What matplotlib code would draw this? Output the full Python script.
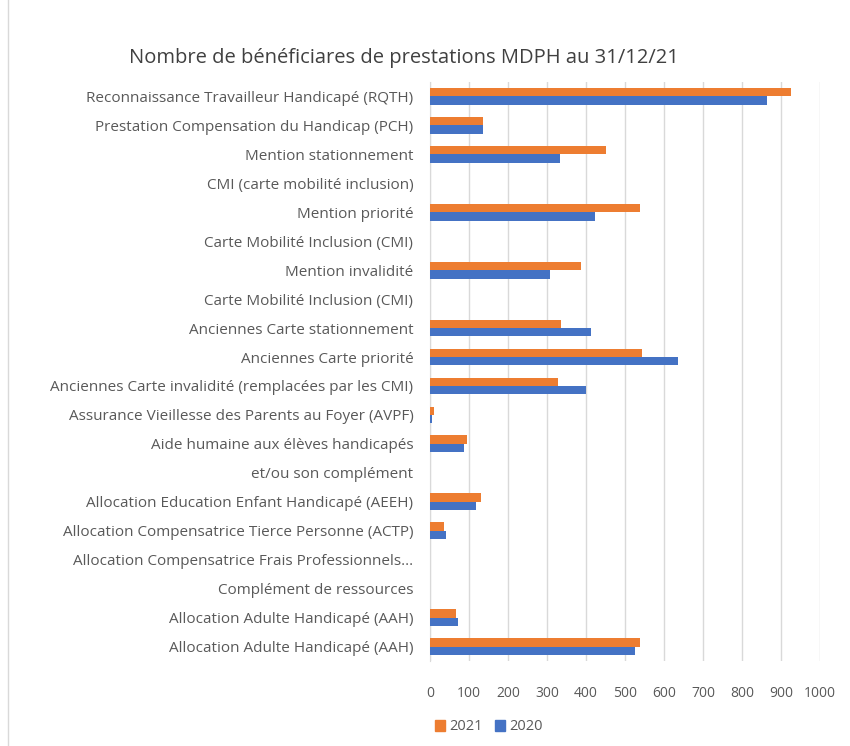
import matplotlib
matplotlib.use("Agg")
import matplotlib.pyplot as plt
import numpy as np
from matplotlib.patches import Patch

categories = [
    "Reconnaissance Travailleur Handicapé (RQTH)",
    "Prestation Compensation du Handicap (PCH)",
    "Mention stationnement",
    "CMI (carte mobilité inclusion)",
    "Mention priorité",
    "Carte Mobilité Inclusion (CMI)",
    "Mention invalidité",
    "Carte Mobilité Inclusion (CMI)",
    "Anciennes Carte stationnement",
    "Anciennes Carte priorité",
    "Anciennes Carte invalidité (remplacées par les CMI)",
    "Assurance Vieillesse des Parents au Foyer (AVPF)",
    "Aide humaine aux élèves handicapés",
    "et/ou son complément",
    "Allocation Education Enfant Handicapé (AEEH)",
    "Allocation Compensatrice Tierce Personne (ACTP)",
    "Allocation Compensatrice Frais Professionnels...",
    "Complément de ressources",
    "Allocation Adulte Handicapé (AAH)",
    "Allocation Adulte Handicapé (AAH)",
]
values_2021 = [926, 136, 451, 0, 538, 0, 386, 0, 336, 543, 329, 10, 96, 0, 131, 37, 1, 0, 66, 538]
values_2020 = [865, 135, 334, 0, 422, 0, 307, 0, 414, 637, 401, 6, 86, 0, 119, 40, 1, 0, 72, 525]
series_names = ["2021", "2020"]
xticks = list(range(0, 1001, 100))

c2021 = "#ED7D31"
c2020 = "#4472C4"
txt = "#595959"

plt.rcParams['font.family'] = ['Open Sans', 'DejaVu Sans']

fig = plt.figure(figsize=(8.5, 7.46), dpi=100)
ax = fig.add_axes([430/850, 1 - 661/746, 390/850, (661-82)/746])

y = np.arange(len(categories))
h = 0.29
ax.barh(y - h/2, values_2021, height=h, color=c2021, zorder=3)
ax.barh(y + h/2, values_2020, height=h, color=c2020, zorder=3)

ax.set_ylim(len(categories) - 0.5, -0.5)
ax.set_xlim(0, 1000)
ax.set_xticks(xticks)
ax.set_xticklabels([str(t) for t in xticks], color=txt, fontsize=10)
ax.set_yticks(y)
ax.set_yticklabels(categories, color=txt, fontsize=11)
ax.tick_params(axis='both', length=0)
ax.tick_params(axis='x', pad=18)
ax.tick_params(axis='y', pad=12)
ax.grid(axis='x', color="#D9D9D9", linewidth=1, zorder=0)
for s in ['top', 'right', 'bottom']:
    ax.spines[s].set_visible(False)
ax.spines['left'].set_color("#D9D9D9")

fig.text(404/850, 1 - 58/746, "Nombre de bénéficiares de prestations MDPH au 31/12/21",
         ha='center', va='center', fontsize=14.5, color="#404040")

handles = [Patch(color=c2021), Patch(color=c2020)]
fig.legend(handles, series_names, loc='center', bbox_to_anchor=(489/850, 1 - 727/746),
           ncol=2, frameon=False, fontsize=10.5, labelcolor=txt,
           handlelength=0.7, handleheight=0.7, columnspacing=0.8, handletextpad=0.3)

fig.add_artist(plt.Line2D([8/850, 8/850], [0, 1], color="#D9D9D9", linewidth=1))

fig.savefig("out.png", dpi=100)
